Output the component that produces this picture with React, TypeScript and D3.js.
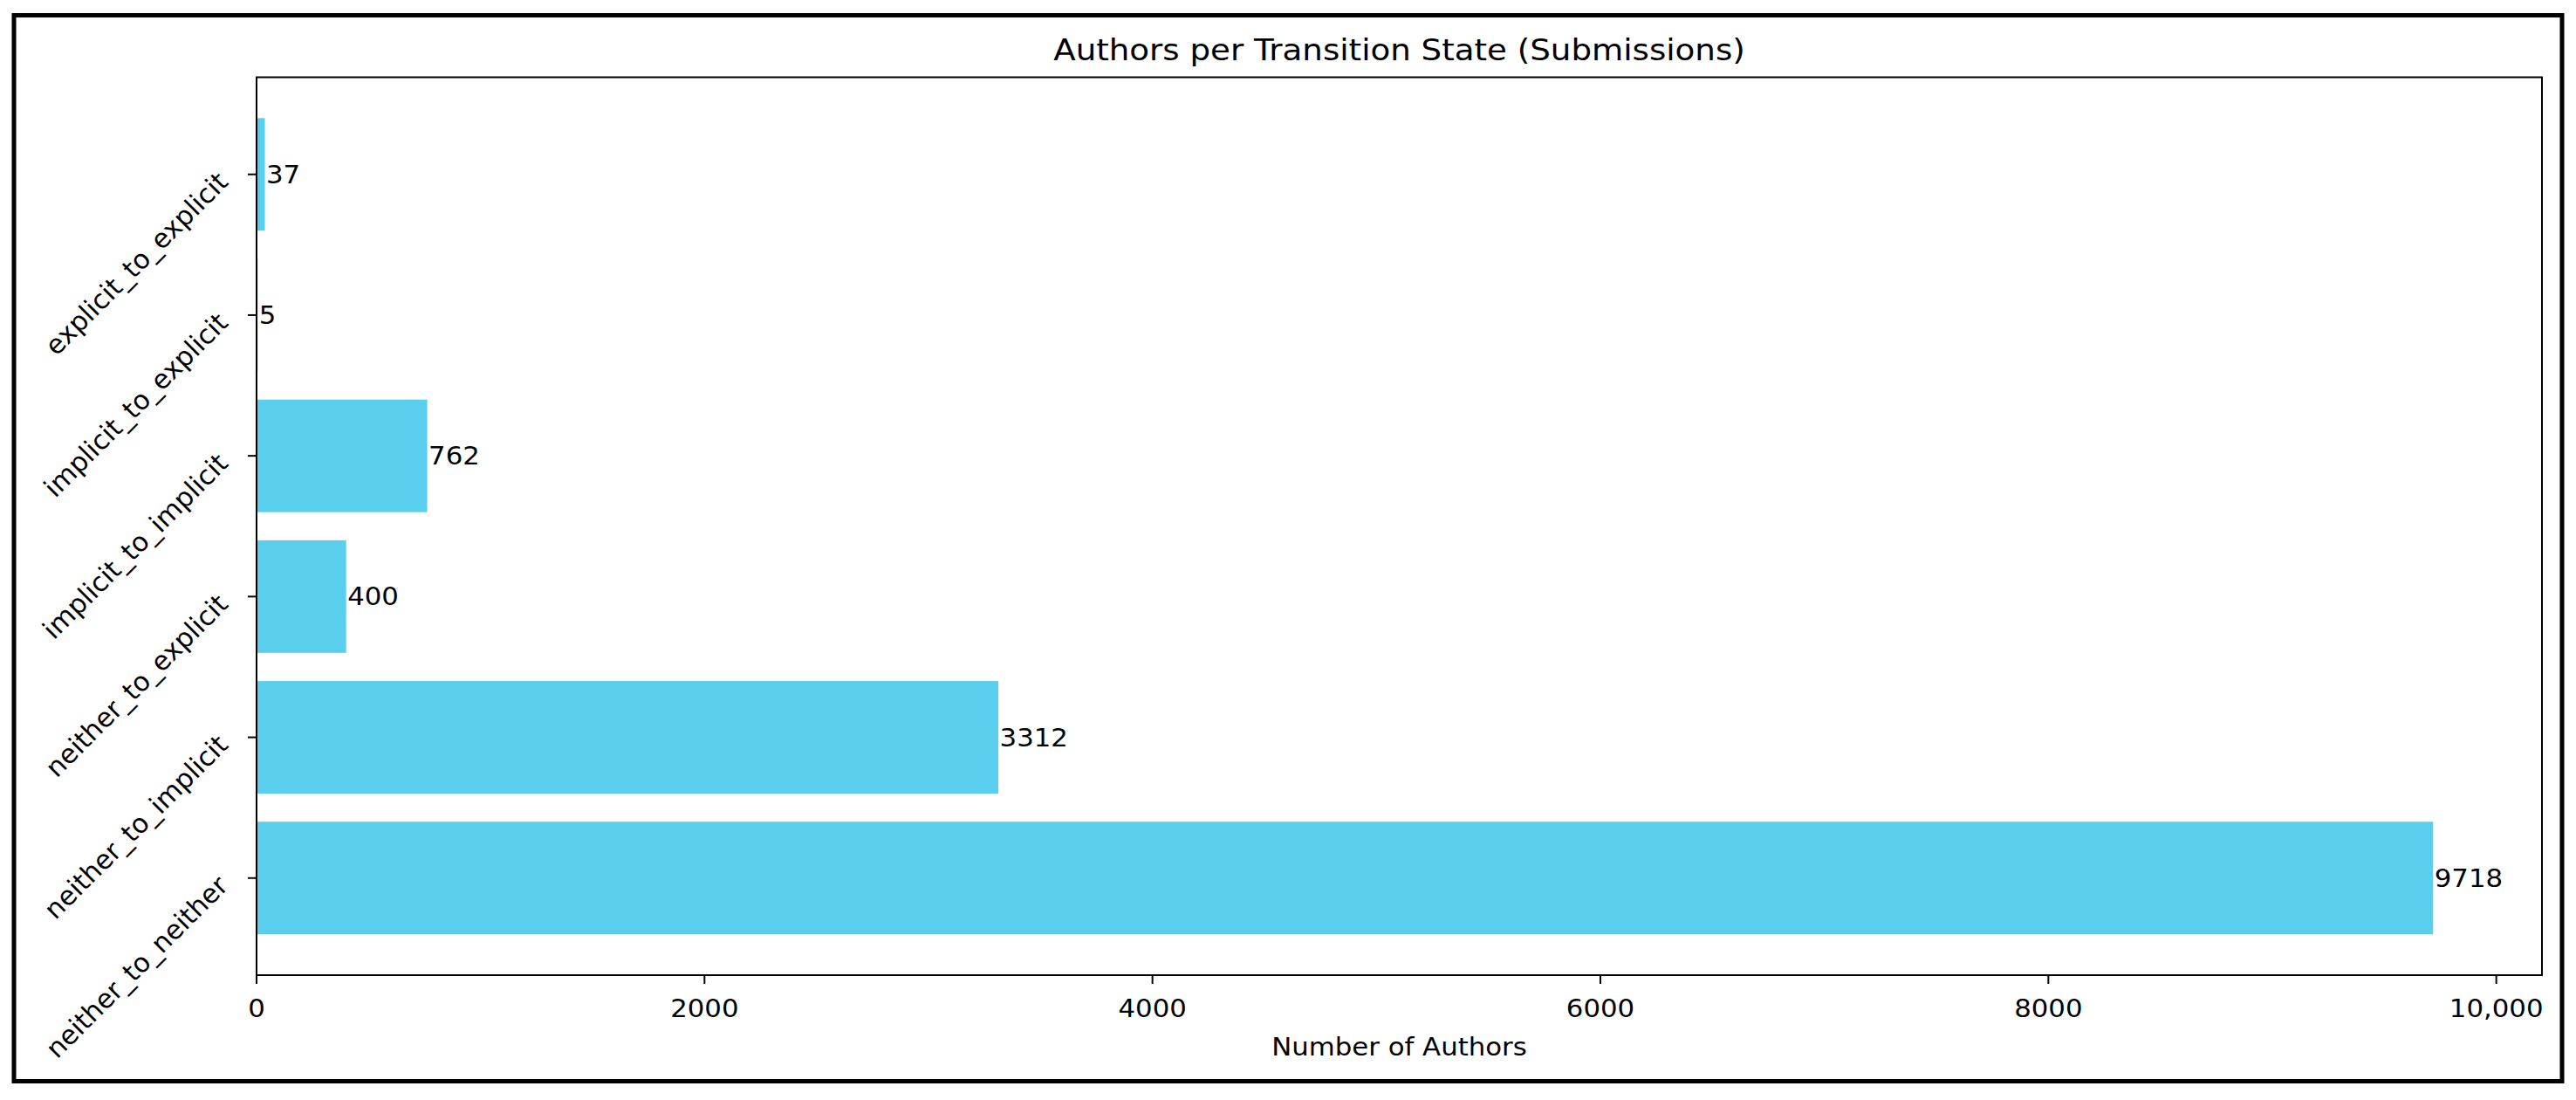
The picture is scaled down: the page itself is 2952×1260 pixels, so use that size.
import React from 'react';
import * as d3 from 'd3';

// categories listed bottom-to-top, as they sit on the y axis
const categories = [
  'neither_to_neither',
  'neither_to_implicit',
  'neither_to_explicit',
  'implicit_to_implicit',
  'implicit_to_explicit',
  'explicit_to_explicit',
];
const authorCounts = [9718, 3312, 400, 762, 5, 37];
const xTickValues = [0, 2000, 4000, 6000, 8000, 10000];
const xTickLabels = ['0', '2000', '4000', '6000', '8000', '10,000'];

const WIDTH = 2952;
const HEIGHT = 1260;
// horizontal text in the reference is a bit wide for its height, so stretch x
const SX = 1.1;
const VB_W = WIDTH / SX;

const FONT = '"DejaVu Sans", "Liberation Sans", sans-serif';
const BAR_COLOR = '#5acfed';

const plot = { left: 294, right: 2913, top: 88.5, bottom: 1117 };

const App: React.FC = () => {
  const n = categories.length;
  const barH = 0.8;
  const pad = (n - 1 + barH) * 0.05;

  const x = d3.scaleLinear()
    .domain([0, (d3.max(authorCounts) ?? 0) * 1.05])
    .range([plot.left / SX, plot.right / SX]);

  const y = d3.scaleLinear()
    .domain([-barH / 2 - pad, n - 1 + barH / 2 + pad])
    .range([plot.bottom, plot.top]);

  const x0 = x(0);
  const xEnd = plot.right / SX;
  const cx = (x0 + xEnd) / 2;

  return (
    <svg
      width={WIDTH}
      height={HEIGHT}
      viewBox={`0 0 ${VB_W} ${HEIGHT}`}
      preserveAspectRatio="none"
      style={{ position: 'absolute', left: 0, top: 0, background: '#fff' }}
      fontFamily={FONT}
    >
      {/* outer frame */}
      <rect
        x={16 / SX}
        y={17.5}
        width={(2936 - 16) / SX}
        height={1238.5 - 17.5}
        fill="#fff"
        stroke="#000"
        strokeWidth={5}
        vectorEffect="non-scaling-stroke"
      />

      <text x={cx} y={69} fontSize={33.8} textAnchor="middle" fill="#000">
        Authors per Transition State (Submissions)
      </text>

      {/* bars */}
      {authorCounts.map((v, i) => (
        <rect
          key={categories[i]}
          x={x0}
          y={y(i + barH / 2)}
          width={x(v) - x0}
          height={y(i - barH / 2) - y(i + barH / 2)}
          fill={BAR_COLOR}
        />
      ))}

      {/* value labels */}
      {authorCounts.map((v, i) => (
        <text
          key={'lbl-' + categories[i]}
          x={x(v) + 1.5 / SX}
          y={y(i) + 10}
          fontSize={28}
          fill="#000"
        >
          {v}
        </text>
      ))}

      {/* spines */}
      <rect
        x={x0}
        y={plot.top}
        width={xEnd - x0}
        height={plot.bottom - plot.top}
        fill="none"
        stroke="#000"
        strokeWidth={2}
        vectorEffect="non-scaling-stroke"
      />

      {/* x axis ticks */}
      {xTickValues.map((t, i) => (
        <g key={'xt-' + t}>
          <line
            x1={x(t)}
            x2={x(t)}
            y1={plot.bottom}
            y2={plot.bottom + 10}
            stroke="#000"
            strokeWidth={2}
            vectorEffect="non-scaling-stroke"
          />
          <text x={x(t)} y={1165} fontSize={28} textAnchor="middle" fill="#000">
            {xTickLabels[i]}
          </text>
        </g>
      ))}

      <text x={cx} y={1209} fontSize={28} textAnchor="middle" fill="#000">
        Number of Authors
      </text>

      {/* y axis ticks; labels undo the x stretch so they sit at a true 45deg */}
      {categories.map((c, i) => (
        <g key={'yt-' + c}>
          <line
            x1={x0 - 10 / SX}
            x2={x0}
            y1={y(i)}
            y2={y(i)}
            stroke="#000"
            strokeWidth={2}
            vectorEffect="non-scaling-stroke"
          />
          <text
            transform={`translate(${263 / SX},${y(i) + 10.5}) scale(${1 / SX},1) rotate(-45)`}
            fontSize={30.5}
            textAnchor="end"
            fill="#000"
          >
            {c}
          </text>
        </g>
      ))}
    </svg>
  );
};

export default App;
